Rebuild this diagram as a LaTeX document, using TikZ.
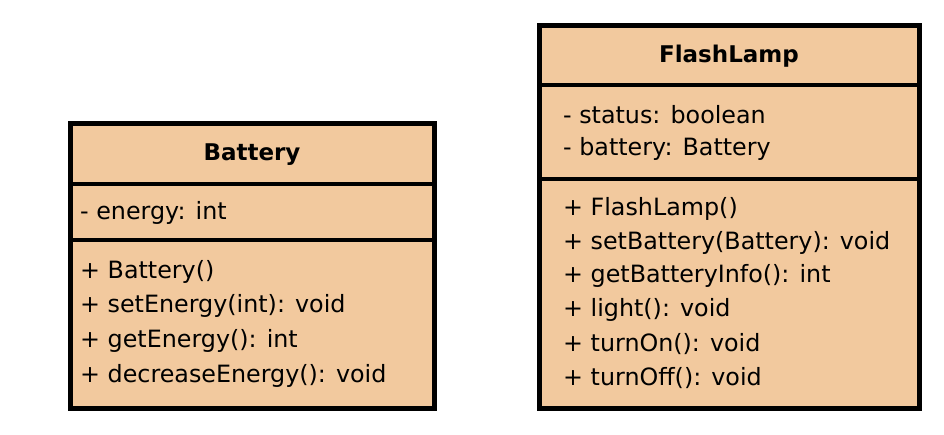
\documentclass[tikz,border=0pt]{standalone}
\usepackage{fontspec}
\setmainfont{DejaVu Sans}
\definecolor{umlfill}{HTML}{F2C99E}
\begin{document}
\begin{tikzpicture}[x=1pt,y=-1pt,
  box/.style={draw=black,line width=5pt,fill=umlfill},
  sep/.style={draw=black,line width=3.5pt},
  txt/.style={anchor=west,inner sep=0pt,font=\fontsize{23.8}{28}\selectfont},
  ttl/.style={inner sep=0pt,font=\fontsize{23}{28}\selectfont\bfseries}]
\useasboundingbox (0,0) rectangle (944,434);
% Battery
\draw[box] (70,123) rectangle (434,408);
\draw[sep] (70,184) -- (434,184);
\draw[sep] (70,240) -- (434,240);
\node[ttl] (bt) at (252,155) {Battery};
\node[txt] (b1) at (80,213) {- energy: int};
\node[txt] (b2) at (80,272) {+ Battery()};
\node[txt] (b3) at (80,306) {+ setEnergy(int): void};
\node[txt] (b4) at (80,341) {+ getEnergy(): int};
\node[txt] (b5) at (80,376) {+ decreaseEnergy(): void};
% FlashLamp
\draw[box] (539,25) rectangle (919,408);
\draw[sep] (539,85) -- (919,85);
\draw[sep] (539,179) -- (919,179);
\node[ttl] (ft) at (729,56) {FlashLamp};
\node[txt] (f1) at (563,115) {- status: boolean};
\node[txt] (f2) at (563,149) {- battery: Battery};
\node[txt] (f3) at (563,209) {+ FlashLamp()};
\node[txt] (f4) at (563,243) {+ setBattery(Battery): void};
\node[txt] (f5) at (563,276) {+ getBatteryInfo(): int};
\node[txt] (f6) at (563,310) {+ light(): void};
\node[txt] (f7) at (563,344) {+ turnOn(): void};
\node[txt] (f8) at (563,378) {+ turnOff(): void};
\end{tikzpicture}
\end{document}
